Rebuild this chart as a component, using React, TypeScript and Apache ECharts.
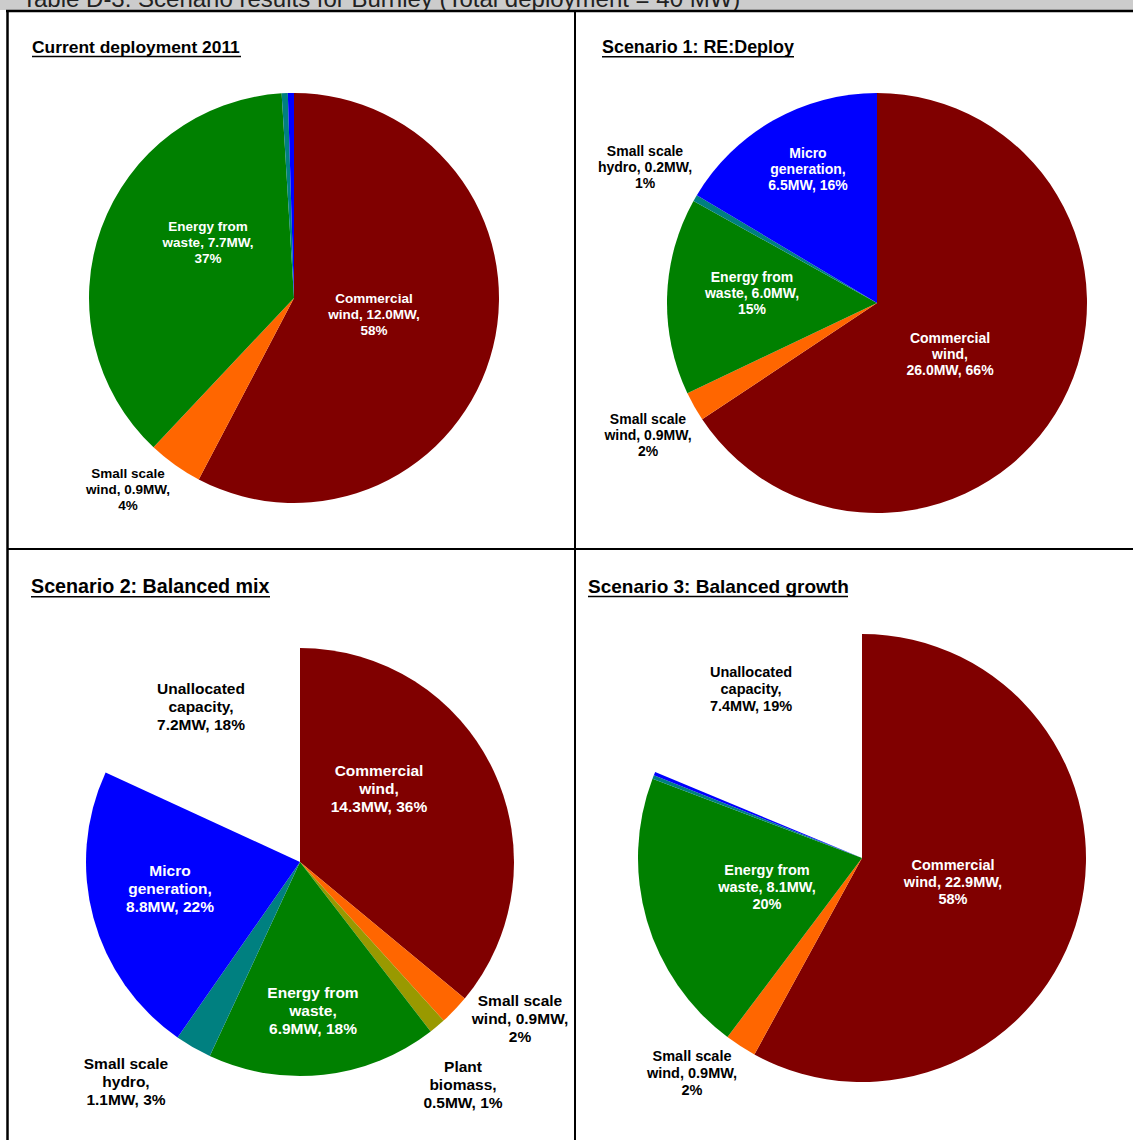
import React, { useEffect, useRef } from "react";
import * as echarts from "echarts";

const FONT = "'Liberation Sans', Arial, Helvetica, sans-serif";

// ---------- Data ----------
const headerText = "Table D-3: Scenario results for Burnley (Total deployment = 40 MW)";

const titles = [
  "Current deployment 2011",
  "Scenario 1: RE:Deploy",
  "Scenario 2: Balanced mix",
  "Scenario 3: Balanced growth",
];

// Current deployment 2011
const p1Names = ["Commercial wind", "Small scale wind", "Energy from waste", "Small scale hydro", "Micro generation"];
const p1Values = [12.0, 0.9, 7.7, 0.1, 0.1];
const p1Labels = ["Commercial\nwind, 12.0MW,\n58%", "Small scale\nwind, 0.9MW,\n4%", "Energy from\nwaste, 7.7MW,\n37%", "", ""];

// Scenario 1: RE:Deploy
const p2Names = ["Commercial wind", "Small scale wind", "Energy from waste", "Small scale hydro", "Micro generation"];
const p2Values = [26.0, 0.9, 6.0, 0.2, 6.5];
const p2Labels = [
  "Commercial\nwind,\n26.0MW, 66%",
  "Small scale\nwind, 0.9MW,\n2%",
  "Energy from\nwaste, 6.0MW,\n15%",
  "Small scale\nhydro, 0.2MW,\n1%",
  "Micro\ngeneration,\n6.5MW, 16%",
];

// Scenario 2: Balanced mix
const p3Names = ["Commercial wind", "Small scale wind", "Plant biomass", "Energy from waste", "Small scale hydro", "Micro generation", "Unallocated capacity"];
const p3Values = [14.3, 0.9, 0.5, 6.9, 1.1, 8.8, 7.2];
const p3Labels = [
  "Commercial\nwind,\n14.3MW, 36%",
  "Small scale\nwind, 0.9MW,\n2%",
  "Plant\nbiomass,\n0.5MW, 1%",
  "Energy from\nwaste,\n6.9MW, 18%",
  "Small scale\nhydro,\n1.1MW, 3%",
  "Micro\ngeneration,\n8.8MW, 22%",
  "Unallocated\ncapacity,\n7.2MW, 18%",
];

// Scenario 3: Balanced growth
const p4Names = ["Commercial wind", "Small scale wind", "Energy from waste", "Small scale hydro", "Micro generation", "Unallocated capacity"];
const p4Values = [22.9, 0.9, 8.1, 0.1, 0.1, 7.4];
const p4Labels = [
  "Commercial\nwind, 22.9MW,\n58%",
  "Small scale\nwind, 0.9MW,\n2%",
  "Energy from\nwaste, 8.1MW,\n20%",
  "",
  "",
  "Unallocated\ncapacity,\n7.4MW, 19%",
];

// ---------- Styles / layout ----------
const COLOR: Record<string, string> = {
  "Commercial wind": "#800000",
  "Small scale wind": "#FF6600",
  "Plant biomass": "#999900",
  "Energy from waste": "#008000",
  "Small scale hydro": "#008080",
  "Micro generation": "#0000FF",
  "Unallocated capacity": "rgba(0,0,0,0)",
};
const p1LabelColors = ["#fff", "#000", "#fff", "#000", "#000"];
const p2LabelColors = ["#fff", "#000", "#fff", "#000", "#fff"];
const p3LabelColors = ["#fff", "#000", "#000", "#fff", "#000", "#fff", "#000"];
const p4LabelColors = ["#fff", "#000", "#fff", "#000", "#000", "#000"];

const pieCenters = [
  [294, 298],
  [877, 303],
  [300, 862],
  [862, 858],
];
const pieRadii = [205, 210, 214, 224];
const labelFont = [
  [13.5, 16],
  [14, 16],
  [15.5, 18],
  [14.5, 17],
];
const labelPos = [
  [[374, 314], [128, 489], [208, 242], [0, 0], [0, 0]],
  [[950, 354], [648, 435], [752, 293], [645, 167], [808, 169]],
  [[379, 788], [520, 1018], [463, 1084], [313, 1010], [126, 1081], [170, 888], [201, 706]],
  [[953, 882], [692, 1073], [767, 887], [0, 0], [0, 0], [751, 689]],
];
const titlePos = [
  { x: 32, y: 47, w: 209, size: 17.4 },
  { x: 602, y: 47, w: 192, size: 17.9 },
  { x: 31, y: 586, w: 239, size: 19.7 },
  { x: 588, y: 586, w: 260, size: 19 },
];

function buildSeries(i: number, names: string[], values: number[], labels: string[], labelColors: string[]) {
  return {
    type: "pie",
    silent: true,
    center: pieCenters[i],
    radius: pieRadii[i],
    startAngle: 90,
    clockwise: true,
    avoidLabelOverlap: false,
    minAngle: 0,
    emphasis: { disabled: true },
    labelLine: { show: false },
    itemStyle: { borderWidth: 0 },
    label: {
      show: true,
      position: "inside",
      fontFamily: FONT,
      fontWeight: "bold",
      fontSize: labelFont[i][0],
      lineHeight: labelFont[i][1],
      align: "center",
    },
    labelLayout: (params: any) => {
      const p = labelPos[i][params.dataIndex];
      return { x: p[0], y: p[1], align: "center", verticalAlign: "middle" };
    },
    data: names.map((n, k) => ({
      name: n,
      value: values[k],
      itemStyle: { color: COLOR[n] },
      label: {
        show: labels[k] !== "",
        formatter: labels[k],
        color: labelColors[k],
      },
    })),
  };
}

export default function App() {
  const ref = useRef<HTMLDivElement>(null);
  useEffect(() => {
    if (!ref.current) return;
    const chart = echarts.init(ref.current, undefined, { renderer: "svg" });
    const graphics: any[] = [
      { type: "rect", shape: { x: 0, y: 0, width: 1133, height: 10 }, style: { fill: "#cccccc" }, z: 0 },
      {
        type: "text",
        x: 22,
        y: 10,
        style: { text: headerText, fontFamily: FONT, fontSize: 24, fill: "#222", verticalAlign: "bottom", align: "left" },
        z: 1,
      },
      { type: "line", shape: { x1: 6, y1: 11, x2: 1133, y2: 11 }, style: { stroke: "#000", lineWidth: 2.5 }, z: 3 },
      { type: "line", shape: { x1: 7.5, y1: 10, x2: 7.5, y2: 1140 }, style: { stroke: "#000", lineWidth: 2.5 }, z: 3 },
      { type: "line", shape: { x1: 575, y1: 10, x2: 575, y2: 1140 }, style: { stroke: "#000", lineWidth: 2 }, z: 3 },
      { type: "line", shape: { x1: 7, y1: 549, x2: 1133, y2: 549 }, style: { stroke: "#000", lineWidth: 2 }, z: 3 },
    ];
    titles.forEach((t, k) => {
      const tp = titlePos[k];
      graphics.push({
        type: "text",
        x: tp.x,
        y: tp.y,
        style: { text: t, fontFamily: FONT, fontWeight: "bold", fontSize: tp.size, fill: "#000", verticalAlign: "middle", align: "left" },
        z: 3,
      });
      const uy = tp.y + tp.size * 0.55;
      graphics.push({
        type: "line",
        shape: { x1: tp.x, y1: uy, x2: tp.x + tp.w, y2: uy },
        style: { stroke: "#000", lineWidth: 1.5 },
        z: 3,
      });
    });

    chart.setOption({
      animation: false,
      backgroundColor: "#fff",
      graphic: graphics,
      series: [
        buildSeries(0, p1Names, p1Values, p1Labels, p1LabelColors),
        buildSeries(1, p2Names, p2Values, p2Labels, p2LabelColors),
        buildSeries(2, p3Names, p3Values, p3Labels, p3LabelColors),
        buildSeries(3, p4Names, p4Values, p4Labels, p4LabelColors),
      ],
    });
    return () => chart.dispose();
  }, []);
  return (
    <div
      ref={ref}
      style={{ position: "absolute", left: 0, top: 0, width: 1133, height: 1140 }}
    />
  );
}
